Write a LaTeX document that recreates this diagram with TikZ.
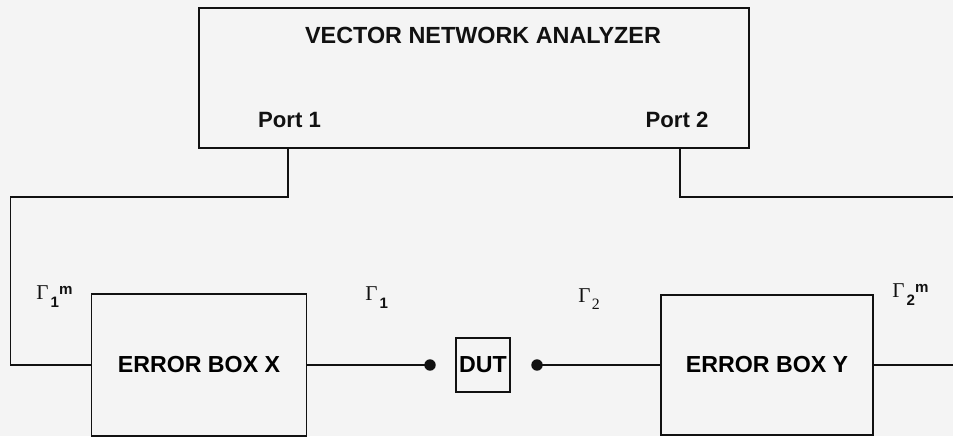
\documentclass[tikz,border=0pt]{standalone}
\usepackage{fontspec}
\setmainfont{Liberation Sans}
\newfontfamily\serifg{Liberation Serif}
\usepackage{xcolor}
\usepackage{tikz}
\usetikzlibrary{calc,positioning}
\definecolor{inkc}{HTML}{111111}
\definecolor{paperc}{HTML}{F4F4F4}
\newcommand{\subf}{\fontsize{8.6}{10}\selectfont\bfseries}
\newcommand{\gam}[2]{{\serifg\fontsize{12}{14}\selectfont Γ}\kern1.2pt\raisebox{-5pt}{\subf #1}\raisebox{2.8pt}{\subf #2}}
\newcommand{\gamser}[1]{{\serifg\fontsize{12}{14}\selectfont Γ\kern0.8pt\raisebox{-4pt}{\fontsize{9}{10}\selectfont #1}}}
\tikzset{
  wire/.style={inkc,line width=1pt},
  blk/.style={draw=inkc,line width=1pt,inner sep=0pt,align=center,font=\fontsize{13.2}{15}\selectfont\bfseries},
  lbl/.style={inkc,inner sep=0pt,font=\fontsize{12.6}{14}\selectfont\bfseries},
  glab/.style={inkc,inner sep=0pt,anchor=base west},
  pin/.style={circle,fill=inkc,inner sep=0pt,minimum size=6.5pt}
}

\begin{document}
\begin{tikzpicture}
\fill[paperc] (0,0) rectangle (19.06,-8.72);
\useasboundingbox (0,0) rectangle (19.06,-8.72);
% analyzer
\node[blk,minimum width=11cm,minimum height=2.8cm] (vna) at (9.48,-1.56) {};
\node[lbl,font=\fontsize{13.3}{15}\selectfont\bfseries] (title) at (9.66,-0.71) {VECTOR NETWORK ANALYZER};
\node[lbl] (port1) at (5.79,-2.4) {Port 1};
\node[lbl] (port2) at (13.54,-2.4) {Port 2};
% error boxes and DUT
\node[blk,minimum width=4.3cm,minimum height=2.84cm] (boxX) at (3.98,-7.3) {ERROR BOX X};
\node[blk,minimum width=4.24cm,minimum height=2.8cm] (boxY) at (15.34,-7.3) {ERROR BOX Y};
\node[blk,minimum width=1.08cm,minimum height=1.08cm] (dut) at (9.66,-7.3) {DUT};
\node[pin] (pinL) at (8.6,-7.3) {};
\node[pin] (pinR) at (10.74,-7.3) {};
% cable ends
\coordinate (p1) at (5.76,-2.96);
\coordinate (p2) at (13.6,-2.96);
\coordinate (lc) at (0.21,-3.94);
\coordinate (rc) at (19.06,-3.94);
\coordinate (rend) at (19.06,-7.3);
\draw[wire] (p1) |- (lc) |- (boxX.west);
\draw[wire] (p2) |- (rc);
\draw[wire] (boxX.east) -- (pinL.center);
\draw[wire] (pinR.center) -- (boxY.west);
\draw[wire] (boxY.east) -- (rend);
% reflection coefficients
\node[glab] (g1m) at (0.72,-5.98) {\gam{1}{m}};
\node[glab] (g1) at (7.3,-6.0) {\gam{1}{}};
\node[glab] (g2) at (11.56,-6.04) {\gamser{2}};
\node[glab] (g2m) at (17.84,-5.94) {\gam{2}{m}};
\end{tikzpicture}
\end{document}
